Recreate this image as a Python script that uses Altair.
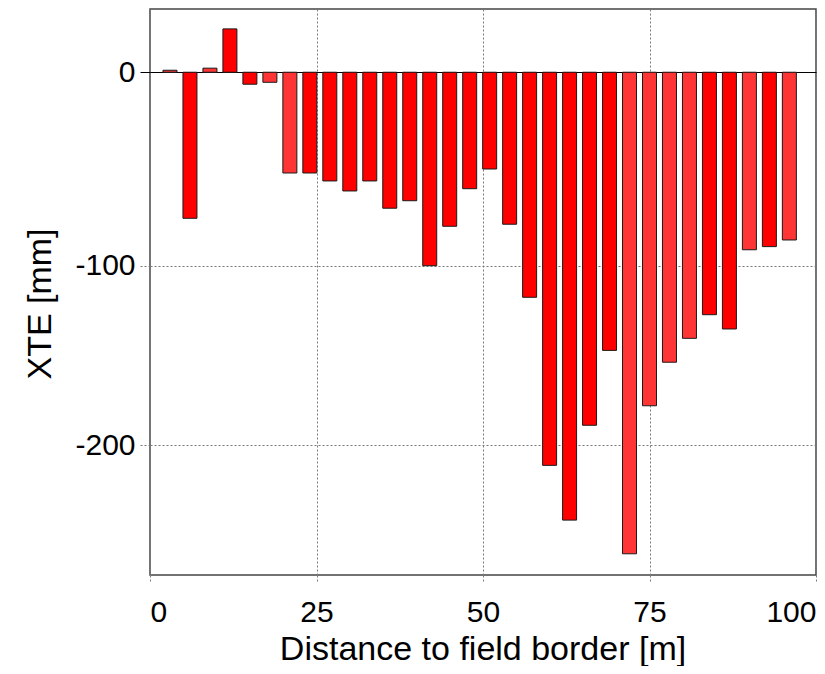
import altair as alt
import pandas as pd

# Distance to field border [m]
distance = [3, 6, 9, 12, 15, 18, 21, 24, 27, 30, 33, 36, 39, 42, 45, 48,
            51, 54, 57, 60, 63, 66, 69, 72, 75, 78, 81, 84, 87, 90, 93, 96]
# XTE [mm]
xte = [0.8, -74.3, 1.7, 20.6, -5.3, -4.4, -50.2, -50.2, -54.4, -59.7, -54.4,
       -68.9, -64.9, -100.0, -78.6, -58.5, -48.1, -77.5, -117.3, -211.4,
       -242.6, -188.7, -146.7, -261.9, -177.7, -153.3, -140.0, -126.9,
       -134.8, -91.3, -89.6, -86.0]
# two shades of bars
group = ["b", "a", "b", "a", "a", "b", "b", "a", "a", "a", "a", "a", "a",
         "a", "a", "a", "a", "a", "a", "a", "a", "a", "a", "b", "b", "b",
         "b", "a", "a", "b", "a", "b"]

x_ticks = [0, 25, 50, 75, 100]
y_ticks = [0, -100, -200]

df = pd.DataFrame({"distance": distance, "xte": xte, "group": group})

FONT = "Liberation Sans"
GRID = "#7a7a7a"
is_zero = "datum.value === 0"

chart = alt.Chart(df).mark_bar(size=14, stroke="#1a1a1a", strokeWidth=1).encode(
    x=alt.X(
        "distance:Q",
        scale=alt.Scale(domain=[0, 100], nice=False, padding=0),
        axis=alt.Axis(
            values=x_ticks, title="Distance to field border [m]",
            domain=False, grid=True, gridColor=GRID, gridDash=[2, 2],
            ticks=True, tickSize=8, tickColor=GRID, tickDash=[2, 2],
            labelPadding=38, labelBaseline="alphabetic",
            labelFlush=True, labelFlushOffset=0,
            labelExpr="toString(datum.value)",
            titleX=332.5, titleY=84, titleBaseline="alphabetic",
            titleAlign="center",
        ),
    ),
    y=alt.Y(
        "xte:Q",
        scale=alt.Scale(type="pow", exponent=0.947, domain=[-274.1, 30.7],
                        nice=False, zero=False),
        axis=alt.Axis(
            values=y_ticks, title="XTE [mm]",
            labelExpr="toString(datum.value)",
            domain=False, grid=True,
            gridColor={"condition": {"test": is_zero, "value": "black"}, "value": GRID},
            gridDash={"condition": {"test": is_zero, "value": []}, "value": [2, 2]},
            ticks=True, tickSize=10,
            tickColor={"condition": {"test": is_zero, "value": "black"}, "value": GRID},
            tickDash={"condition": {"test": is_zero, "value": []}, "value": [2, 2]},
            labelPadding=5, labelAlign="right", labelBaseline="middle",
            titleAngle=270, titleX=-100, titleY=294.5,
            titleBaseline="alphabetic", titleAlign="center",
        ),
    ),
    y2=alt.datum(0),
    color=alt.Color("group:N",
                    scale=alt.Scale(domain=["a", "b"], range=["#ff0000", "#ff3535"]),
                    legend=None),
).properties(
    width=666, height=566,
    padding={"left": 142, "top": 1, "right": 1, "bottom": 91},
    autosize=alt.AutoSizeParams(type="none"),
).configure_view(
    stroke="#444444", strokeWidth=1.5
).configure_axis(
    labelFont=FONT, titleFont=FONT, labelFontSize=30, titleFontSize=34,
    labelColor="black", titleColor="black", titleFontWeight="normal",
    gridWidth=1, tickWidth=1,
)

chart.save("out.html", embed_options={"renderer": "svg", "actions": False})
